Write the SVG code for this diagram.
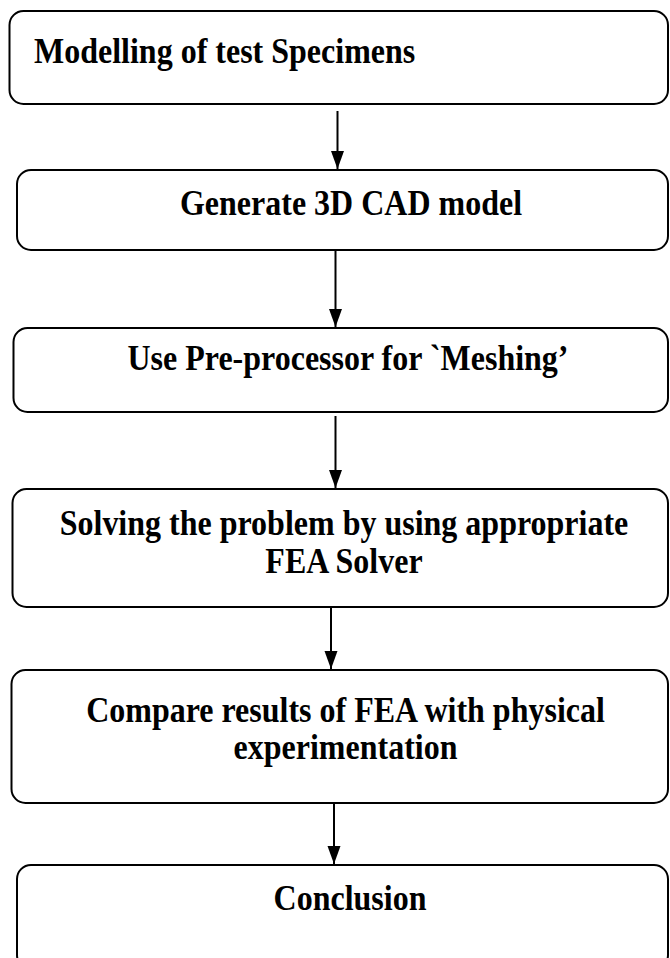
<svg xmlns="http://www.w3.org/2000/svg" width="670" height="958" viewBox="0 0 670 958">
<style>
.box{fill:#fff;stroke:#000;stroke-width:2}
.t{font-family:"Liberation Serif","Times New Roman",serif;font-weight:bold;font-size:32px;fill:#000}
.c{text-anchor:middle}
.ln{stroke:#000;stroke-width:2;fill:none}
</style>
<defs>
<marker id="ah" markerUnits="userSpaceOnUse" markerWidth="18" markerHeight="13" refX="18" refY="6.5" orient="auto" viewBox="0 0 18 13" overflow="visible">
<path d="M0,0 L18,6.5 L0,13 Z" fill="#000"/>
</marker>
</defs>
<g id="connectors">
<line class="ln" x1="337.5" y1="111" x2="337.5" y2="169" marker-end="url(#ah)"/>
<line class="ln" x1="335.5" y1="250" x2="335.5" y2="327" marker-end="url(#ah)"/>
<line class="ln" x1="335.5" y1="416" x2="335.5" y2="488" marker-end="url(#ah)"/>
<line class="ln" x1="331" y1="590" x2="331" y2="669" marker-end="url(#ah)"/>
<line class="ln" x1="334" y1="803" x2="334" y2="864" marker-end="url(#ah)"/>
</g>
<g id="n1"><rect class="box" x="9.5" y="11" width="658.5" height="93" rx="14"/><text class="t" transform="translate(34,63) scale(1,1.12)">Modelling of test Specimens</text></g>
<g id="n2"><rect class="box" x="17" y="170" width="651" height="80" rx="14"/><text class="t c" transform="translate(351,215) scale(1,1.12)">Generate 3D CAD model</text></g>
<g id="n3"><rect class="box" x="13.5" y="328" width="654.5" height="84" rx="14"/><text class="t c" transform="translate(348,370) scale(1,1.12)">Use Pre-processor for `Meshing’</text></g>
<g id="n4"><rect class="box" x="12.5" y="489" width="655.5" height="118" rx="14"/><text class="t c" transform="translate(344,535) scale(1,1.12)">Solving the problem by using appropriate</text><text class="t c" transform="translate(344,573) scale(1,1.12)">FEA Solver</text></g>
<g id="n5"><rect class="box" x="11.5" y="670" width="656.5" height="133" rx="14"/><text class="t c" transform="translate(345.5,722) scale(1,1.12)">Compare results of FEA with physical</text><text class="t c" transform="translate(345.5,759) scale(1,1.12)">experimentation</text></g>
<g id="n6"><rect class="box" x="17" y="865" width="651" height="104" rx="14"/><text class="t c" transform="translate(350,910) scale(1,1.12)">Conclusion</text></g>
</svg>
